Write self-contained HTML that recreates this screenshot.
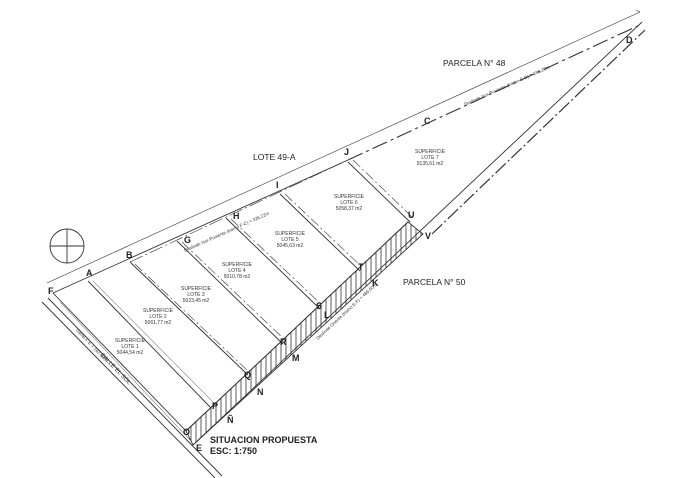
<!DOCTYPE html>
<html><head><style>
html,body{margin:0;padding:0;background:#fff;}
svg{display:block;font-family:"Liberation Sans",sans-serif;}
</style></head><body>
<svg width="680" height="478" viewBox="0 0 680 478" xmlns="http://www.w3.org/2000/svg">
<defs>
<pattern id="h" width="5" height="5" patternUnits="userSpaceOnUse">
<line x1="1" y1="0" x2="1" y2="5" stroke="#333" stroke-width="0.8"/>
</pattern>
</defs>
<rect width="680" height="478" fill="#fff"/>
<g stroke="#333" fill="none" stroke-width="0.9">
<polygon points="186,431 408,222 423,234 193,445" fill="url(#h)" stroke="#333"/>
<!-- top boundary F-J solid, J-D dash-dot -->
<line x1="53" y1="293" x2="348" y2="160"/>
<line x1="348" y1="160" x2="642" y2="24" stroke-dasharray="16,4,3,4" stroke-width="1.1"/>
<!-- dimension line -->
<line x1="47" y1="283" x2="640" y2="12" stroke-width="0.6"/>
<line x1="636" y1="10" x2="640" y2="12" stroke-width="0.6"/>
<line x1="130" y1="262" x2="348" y2="160" stroke-dasharray="14,3,2,3" stroke-width="0.6"/>
<!-- E-D outer -->
<line x1="193" y1="445" x2="642" y2="22"/>
<line x1="432" y1="234" x2="645" y2="30" stroke-dasharray="14,3,2,3" stroke-width="1.2"/>
<line x1="186" y1="431" x2="408" y2="222"/>
<line x1="53" y1="293" x2="186" y2="431"/>
<line x1="42" y1="302" x2="215" y2="478"/>
<line x1="48" y1="298" x2="222" y2="476"/>
<line x1="60" y1="302" x2="190" y2="440" stroke-width="0.5"/>
<line x1="88" y1="281" x2="211" y2="408"/>
<line x1="93" y1="281" x2="216" y2="405" stroke-width="0.5"/>
<line x1="130" y1="262" x2="248" y2="375"/>
<line x1="135" y1="264" x2="250" y2="373" stroke-width="0.6" stroke-dasharray="10,3,2,3"/>
<line x1="177" y1="241" x2="283" y2="344"/>
<line x1="182" y1="242" x2="286" y2="341" stroke-width="0.6" stroke-dasharray="10,3,2,3"/>
<line x1="226" y1="218" x2="320" y2="309"/>
<line x1="231" y1="219" x2="323" y2="306" stroke-width="0.6" stroke-dasharray="10,3,2,3"/>
<line x1="280" y1="194" x2="360" y2="271"/>
<line x1="285" y1="194" x2="363" y2="268" stroke-width="0.6" stroke-dasharray="10,3,2,3"/>
<line x1="348" y1="162" x2="410" y2="222"/>
<line x1="353" y1="160" x2="413" y2="218" stroke-width="0.6" stroke-dasharray="10,3,2,3"/>
<circle cx="67" cy="246" r="17"/>
<line x1="67" y1="229" x2="67" y2="263"/>
<line x1="50" y1="246" x2="84" y2="246"/>
</g>
<g font-size="9" font-weight="bold" fill="#222">
<text x="48" y="294">F</text><text x="86" y="276">A</text><text x="126" y="258">B</text>
<text x="184" y="243">G</text><text x="233" y="219">H</text><text x="276" y="188">I</text>
<text x="344" y="155">J</text><text x="424" y="124">C</text><text x="626" y="43">D</text>
<text x="408" y="218">U</text><text x="425" y="239">V</text><text x="358" y="270">T</text>
<text x="372" y="286">K</text><text x="316" y="309">S</text><text x="324" y="318">L</text>
<text x="280" y="345">R</text><text x="292" y="361">M</text><text x="244" y="378">Q</text>
<text x="257" y="395">N</text><text x="212" y="409">P</text><text x="227" y="423">Ñ</text>
<text x="183" y="435">O</text><text x="196" y="451">E</text>
<text x="210" y="443" font-size="9">SITUACION PROPUESTA</text>
<text x="210" y="454" font-size="9">ESC: 1:750</text>
</g>
<g font-size="8.5" fill="#222">
<text x="443" y="66">PARCELA N° 48</text>
<text x="253" y="160">LOTE 49-A</text>
<text x="403" y="285">PARCELA N° 50</text>
</g>
<g font-size="5" fill="#333" text-anchor="middle">
<text x="130" y="342">SUPERFICIE</text><text x="130" y="348">LOTE 1</text><text x="130" y="354">5044,54 m2</text>
<text x="158" y="312">SUPERFICIE</text><text x="158" y="318">LOTE 2</text><text x="158" y="324">5061,77 m2</text>
<text x="196" y="290">SUPERFICIE</text><text x="196" y="296">LOTE 3</text><text x="196" y="302">5023,45 m2</text>
<text x="237" y="266">SUPERFICIE</text><text x="237" y="272">LOTE 4</text><text x="237" y="278">5010,78 m2</text>
<text x="290" y="235">SUPERFICIE</text><text x="290" y="241">LOTE 5</text><text x="290" y="247">5045,63 m2</text>
<text x="349" y="198">SUPERFICIE</text><text x="349" y="204">LOTE 6</text><text x="349" y="210">5058,37 m2</text>
<text x="430" y="153">SUPERFICIE</text><text x="430" y="159">LOTE 7</text><text x="430" y="165">9135,61 m2</text>
</g>
<g font-size="4.5" fill="#333">
<text transform="translate(185,252) rotate(-24)">Deslinde Nor-Poniente (tramo F-C) = 326,22m</text>
<text transform="translate(465,106) rotate(-24)">Deslinde Nor-Poniente (tramo C-D) = 191,20m</text>
<text transform="translate(318,340) rotate(-43)">Deslinde Oriente (tramo E-F) = 489,60m</text>
<text transform="translate(75,330) rotate(46)">Tramo F-E = 162,00m</text>
<text transform="translate(100,355) rotate(46)" font-size="6">CALLE EL SOL</text>
</g>
</svg>
</body></html>
